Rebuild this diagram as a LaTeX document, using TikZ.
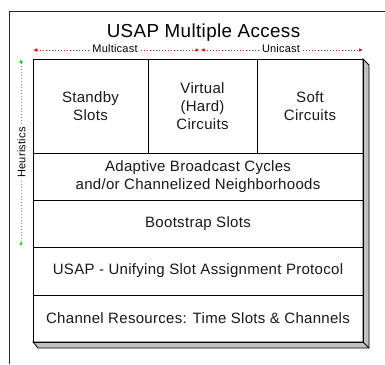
\documentclass[tikz,border=0pt]{standalone}
\usepackage{fontspec}
\setmainfont[LetterSpace=2]{Liberation Sans}
\usetikzlibrary{arrows.meta}
\definecolor{shadowgray}{RGB}{192,192,192}
\definecolor{dotred}{RGB}{255,0,0}
\definecolor{dotgreen}{RGB}{0,230,0}
\begin{document}
\begin{tikzpicture}[x=1pt,y=-1pt,
  cell/.style={draw=black, line width=1pt, inner sep=0pt, outer sep=0pt,
    align=center, font=\fontsize{15}{18.3}\selectfont, text=black!90},
  smalllabel/.style={font=\fontsize{11}{13}\selectfont, inner sep=0pt},
  reddots/.style={draw=dotred, line width=1pt, dash pattern=on 1pt off 2pt,
    -{Latex[length=4pt,width=3.5pt]}},
  greendots/.style={draw=dotgreen, line width=1pt, dash pattern=on 1pt off 2pt,
    -{Latex[length=4pt,width=3.5pt]}}
]
\useasboundingbox (0,0) rectangle (385,364);
\fill[white] (0,0) rectangle (385,364);
% outer frame
\draw[black!85, line width=1pt] (385,11) -- (9,11) -- (9,364);
% title
\node[anchor=base, inner sep=0pt, font=\fontsize{18.8}{22}\selectfont] (title) at (203.5,37.5) {USAP Multiple Access};
% multicast / unicast
\node[smalllabel, anchor=base] (mc) at (115,52.5) {Multicast};
\node[smalllabel, anchor=base] (uc) at (281,52.5) {Unicast};
\coordinate (mcL) at (33,50);
\coordinate (mcR) at (199.5,50);
\coordinate (ucL) at (200.5,50);
\coordinate (ucR) at (363,50);
\draw[reddots] ([xshift=-3pt]mc.west |- mcL) -- (mcL);
\draw[reddots] ([xshift=3pt]mc.east |- mcR) -- (mcR);
\draw[reddots] ([xshift=-3pt]uc.west |- ucL) -- (ucL);
\draw[reddots] ([xshift=3pt]uc.east |- ucR) -- (ucR);
% heuristics
\node[smalllabel, rotate=90] (heur) at (21.5,152.5) {Heuristics};
\coordinate (hT) at (21,59);
\coordinate (hTs) at (21,124);
\coordinate (hB) at (21,246.5);
\coordinate (hBs) at (21,181);
\draw[greendots] (hTs) -- (hT);
\draw[greendots] (hBs) -- (hB);
% shadow
\draw[fill=shadowgray, draw=black, line width=0.8pt]
  (363,59) -- (369,65) -- (369,348) -- (38,348) -- (33,342) -- (363,342) -- cycle;
\draw[line width=0.8pt] (363,342) -- (369,348);
% cells
\node[cell, minimum width=115pt, minimum height=94pt] (standby) at (90.5,106) {Standby\\Slots};
\node[cell, minimum width=109pt, minimum height=94pt] (virtual) at (202.5,106) {Virtual\\(Hard)\\Circuits};
\node[cell, minimum width=106pt, minimum height=94pt] (soft) at (310,106) {Soft\\Circuits};
\node[cell, minimum width=330pt, minimum height=47pt] (adaptive) at (198,176.5) {Adaptive Broadcast Cycles\\and/or Channelized Neighborhoods};
\node[cell, minimum width=330pt, minimum height=47pt] (boot) at (198,223.5) {Bootstrap Slots};
\node[cell, minimum width=330pt, minimum height=48pt] (usap) at (198,271) {USAP - Unifying Slot Assignment Protocol};
\node[cell, minimum width=330pt, minimum height=47pt] (chan) at (198,318.5) {Channel Resources: Time Slots \& Channels};
\end{tikzpicture}
\end{document}
